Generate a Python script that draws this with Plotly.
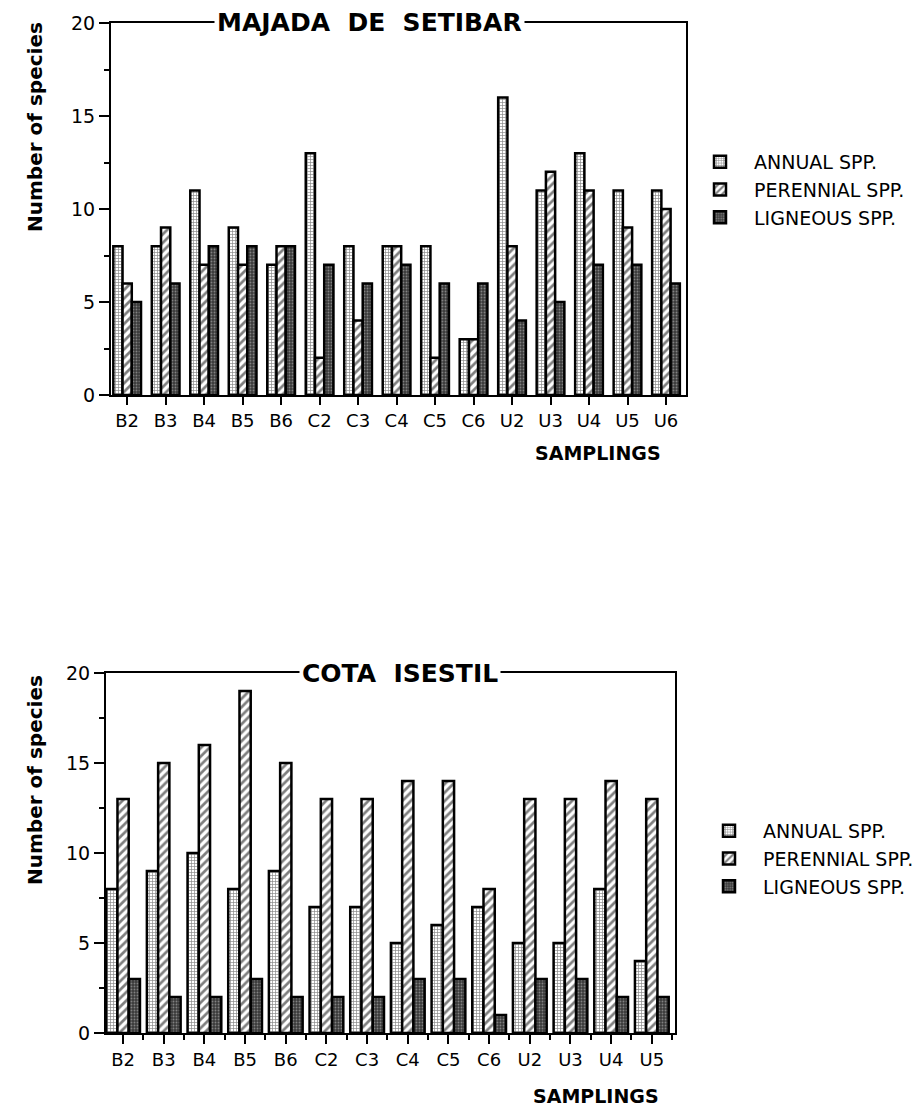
import plotly.graph_objects as go

# ---------------- data ----------------
top_title = "MAJADA\u00a0 DE\u00a0 SETIBAR"
top_cats = ["B2", "B3", "B4", "B5", "B6", "C2", "C3", "C4", "C5", "C6", "U2", "U3", "U4", "U5", "U6"]
top_annual = [8, 8, 11, 9, 7, 13, 8, 8, 8, 3, 16, 11, 13, 11, 11]
top_perennial = [6, 9, 7, 7, 8, 2, 4, 8, 2, 3, 8, 12, 11, 9, 10]
top_ligneous = [5, 6, 8, 8, 8, 7, 6, 7, 6, 6, 4, 5, 7, 7, 6]

bot_title = "COTA\u00a0 ISESTIL"
bot_cats = ["B2", "B3", "B4", "B5", "B6", "C2", "C3", "C4", "C5", "C6", "U2", "U3", "U4", "U5"]
bot_annual = [8, 9, 10, 8, 9, 7, 7, 5, 6, 7, 5, 5, 8, 4]
bot_perennial = [13, 15, 16, 19, 15, 13, 13, 14, 14, 8, 13, 13, 14, 13]
bot_ligneous = [3, 2, 2, 3, 2, 2, 2, 3, 3, 1, 3, 3, 2, 2]

series_names = ["ANNUAL SPP.", "PERENNIAL SPP.", "LIGNEOUS SPP."]
y_ticks = [0, 5, 10, 15, 20]
y_title = "Number of species"
x_title = "SAMPLINGS"

# ---------------- styling ----------------
W, H = 917, 1109
FONT = "DejaVu Sans"
patterns = [
    dict(shape="+", bgcolor="white", fgcolor="#111", size=3, solidity=0.4),
    dict(shape="/", bgcolor="white", fgcolor="black", size=6, solidity=0.45),
    dict(shape=".", bgcolor="#3a3a3a", fgcolor="#c8c8c8", size=3, solidity=0.3),
]


def px_x(p):
    """window pixel -> paper x"""
    return p / W


def px_y(p):
    """window pixel -> paper y"""
    return 1 - p / H


fig = go.Figure()


def add_panel(cats, vals_list, xa, ya, legend):
    xs = list(range(len(cats)))
    for name, vals, pat in zip(series_names, vals_list, patterns):
        fig.add_trace(go.Bar(
            x=xs, y=vals, name=name, xaxis=xa, yaxis=ya, legend=legend,
            marker=dict(color=pat["bgcolor"], pattern=pat,
                        line=dict(color="black", width=2.5)),
            hoverinfo="y+name",
        ))


add_panel(top_cats, [top_annual, top_perennial, top_ligneous], "x", "y", "legend")
add_panel(bot_cats, [bot_annual, bot_perennial, bot_ligneous], "x2", "y2", "legend2")

axis_common = dict(showline=True, linewidth=2, linecolor="black", mirror=True,
                   showgrid=False, zeroline=False, ticks="outside",
                   tickwidth=2, tickcolor="black", automargin=False,
                   tickfont=dict(family=FONT, size=18, color="black"))

fig.update_layout(
    width=W, height=H, margin=dict(l=0, r=0, t=0, b=0, autoexpand=False),
    paper_bgcolor="white", plot_bgcolor="white",
    barmode="group", showlegend=True,
    xaxis=dict(axis_common, domain=[px_x(111), px_x(686)], anchor="y",
               range=[-0.42, len(top_cats) - 0.48],
               tickmode="array", tickvals=list(range(len(top_cats))), ticktext=top_cats,
               ticklen=8),
    yaxis=dict(axis_common, domain=[px_y(395), px_y(23)], anchor="x",
               range=[0, 20], tickmode="array", tickvals=y_ticks, ticklen=10,
               tickfont=dict(family=FONT, size=19, color="black"),
               minor=dict(dtick=2.5, tick0=0, ticks="outside", ticklen=5,
                          tickwidth=2, tickcolor="black", showgrid=False)),
    xaxis2=dict(axis_common, domain=[px_x(106), px_x(675)], anchor="y2",
                range=[-0.42, len(bot_cats) - 0.43],
                tickmode="array", tickvals=list(range(len(bot_cats))), ticktext=bot_cats,
                ticklen=9,
                minor=dict(tickmode="array",
                           tickvals=[i + 0.5 for i in range(-1, len(bot_cats))],
                           ticks="outside", ticklen=5, tickwidth=2, tickcolor="black",
                           showgrid=False)),
    yaxis2=dict(axis_common, domain=[px_y(1033), px_y(673)], anchor="x2",
                range=[0, 20], tickmode="array", tickvals=y_ticks, ticklen=10,
                tickfont=dict(family=FONT, size=19, color="black"),
                minor=dict(dtick=2.5, tick0=0, ticks="outside", ticklen=5,
                           tickwidth=2, tickcolor="black", showgrid=False)),
    legend=dict(x=px_x(686), y=px_y(143), xanchor="left", yanchor="top",
                font=dict(family=FONT, size=19, color="black"),
                bgcolor="rgba(0,0,0,0)", itemwidth=58, tracegroupgap=0),
    legend2=dict(x=px_x(695), y=px_y(812), xanchor="left", yanchor="top",
                 font=dict(family=FONT, size=19, color="black"),
                 bgcolor="rgba(0,0,0,0)", itemwidth=58, tracegroupgap=0),
)

# bar group width differs between the two panels
top_group = 0.72
bot_group = 0.83
for i, tr in enumerate(fig.data):
    frac = top_group if i < 3 else bot_group
    w = frac / 3
    k = i % 3
    tr.width = w
    tr.offset = -frac / 2 + k * w


def ann(text, x, y, size, bold=False, angle=0, bg=None):
    d = dict(text=text, x=px_x(x), y=px_y(y), xref="paper", yref="paper",
             xanchor="center", yanchor="middle", showarrow=False, textangle=angle,
             font=dict(family=FONT, size=size, color="black",
                       weight="bold" if bold else "normal"))
    if bg:
        d.update(bgcolor=bg, borderpad=2)
    return d


annotations = [
    ann(top_title, 369, 23, 25, bold=True, bg="white"),
    ann(bot_title, 400, 673, 25, bold=True, bg="white"),
    ann(y_title, 35, 127, 20, bold=True, angle=-90),
    ann(y_title, 35, 780, 20, bold=True, angle=-90),
    ann(x_title, 598, 453, 19, bold=True),
    ann(x_title, 596, 1096, 19, bold=True),
]
fig.update_layout(annotations=annotations)

fig.write_html("out.html",
               config={"displayModeBar": False},
               post_script="document.body.style.margin='0px';"
                           "document.body.style.overflow='hidden';")
